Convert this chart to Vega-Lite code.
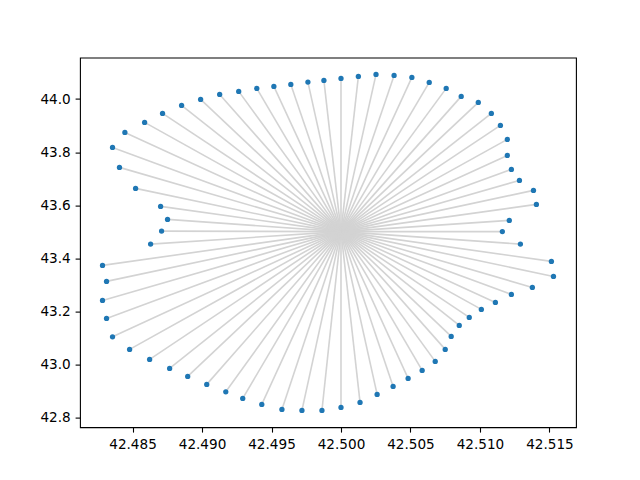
{
  "$schema": "https://vega.github.io/schema/vega-lite/v6.json",
  "width": 496,
  "height": 369.6,
  "autosize": {"type": "none"},
  "padding": {"left": 80, "top": 57.6, "right": 64, "bottom": 52.8},
  "background": "white",
  "config": {
    "view": {"stroke": "black", "strokeWidth": 1.1},
    "axis": {
      "grid": false,
      "domain": false,
      "ticks": true,
      "tickColor": "black",
      "tickWidth": 1.1,
      "tickSize": 4.9,
      "labelPadding": 4.9,
      "labelFont": "DejaVu Sans",
      "labelFontSize": 13.6,
      "labelColor": "black",
      "title": null
    }
  },
  "data": {
    "values": [
      {"x": 42.48709, "y": 43.5019},
      {"x": 42.48752, "y": 43.5460},
      {"x": 42.48702, "y": 43.5951},
      {"x": 42.48522, "y": 43.6630},
      {"x": 42.48406, "y": 43.7423},
      {"x": 42.48356, "y": 43.8177},
      {"x": 42.48445, "y": 43.8743},
      {"x": 42.48587, "y": 43.9121},
      {"x": 42.48716, "y": 43.9460},
      {"x": 42.48853, "y": 43.9762},
      {"x": 42.48990, "y": 43.9989},
      {"x": 42.49127, "y": 44.0177},
      {"x": 42.49264, "y": 44.0291},
      {"x": 42.49394, "y": 44.0404},
      {"x": 42.49517, "y": 44.0479},
      {"x": 42.49639, "y": 44.0555},
      {"x": 42.49762, "y": 44.0642},
      {"x": 42.49877, "y": 44.0706},
      {"x": 42.50000, "y": 44.0781},
      {"x": 42.50125, "y": 44.0857},
      {"x": 42.50252, "y": 44.0932},
      {"x": 42.50382, "y": 44.0894},
      {"x": 42.50510, "y": 44.0819},
      {"x": 42.50635, "y": 44.0630},
      {"x": 42.50757, "y": 44.0404},
      {"x": 42.50865, "y": 44.0102},
      {"x": 42.50988, "y": 43.9875},
      {"x": 42.51082, "y": 43.9460},
      {"x": 42.51147, "y": 43.9008},
      {"x": 42.51197, "y": 43.8479},
      {"x": 42.51197, "y": 43.7875},
      {"x": 42.51226, "y": 43.7347},
      {"x": 42.51284, "y": 43.6932},
      {"x": 42.51385, "y": 43.6555},
      {"x": 42.51406, "y": 43.6026},
      {"x": 42.51211, "y": 43.5423},
      {"x": 42.51161, "y": 43.5000},
      {"x": 42.51291, "y": 43.4528},
      {"x": 42.51514, "y": 43.3875},
      {"x": 42.51529, "y": 43.3309},
      {"x": 42.51377, "y": 43.2894},
      {"x": 42.51226, "y": 43.2630},
      {"x": 42.51111, "y": 43.2328},
      {"x": 42.51010, "y": 43.2064},
      {"x": 42.50923, "y": 43.1762},
      {"x": 42.50851, "y": 43.1460},
      {"x": 42.50793, "y": 43.1045},
      {"x": 42.50750, "y": 43.0555},
      {"x": 42.50678, "y": 43.0102},
      {"x": 42.50584, "y": 42.9762},
      {"x": 42.50483, "y": 42.9460},
      {"x": 42.50375, "y": 42.9158},
      {"x": 42.50260, "y": 42.8857},
      {"x": 42.50137, "y": 42.8555},
      {"x": 42.50000, "y": 42.8366},
      {"x": 42.49863, "y": 42.8253},
      {"x": 42.49719, "y": 42.8253},
      {"x": 42.49575, "y": 42.8291},
      {"x": 42.49430, "y": 42.8479},
      {"x": 42.49293, "y": 42.8706},
      {"x": 42.49171, "y": 42.8955},
      {"x": 42.49034, "y": 42.9234},
      {"x": 42.48897, "y": 42.9536},
      {"x": 42.48767, "y": 42.9838},
      {"x": 42.48623, "y": 43.0177},
      {"x": 42.48479, "y": 43.0555},
      {"x": 42.48356, "y": 43.1030},
      {"x": 42.48313, "y": 43.1725},
      {"x": 42.48284, "y": 43.2404},
      {"x": 42.48313, "y": 43.3121},
      {"x": 42.48284, "y": 43.3725},
      {"x": 42.48630, "y": 43.4528}
    ]
  },
  "encoding": {
    "x": {
      "field": "x",
      "type": "quantitative",
      "scale": {"domain": [42.48122, 42.51691], "zero": false, "nice": false},
      "axis": {"values": [42.485, 42.49, 42.495, 42.5, 42.505, 42.51, 42.515], "format": ".3f"}
    },
    "y": {
      "field": "y",
      "type": "quantitative",
      "scale": {"domain": [42.7619, 44.1566], "zero": false, "nice": false},
      "axis": {"values": [42.8, 43.0, 43.2, 43.4, 43.6, 43.8, 44.0], "format": ".1f"}
    }
  },
  "layer": [
    {
      "mark": {"type": "rule", "color": "#d3d3d3", "strokeWidth": 1.6},
      "encoding": {
        "x2": {"datum": 42.5},
        "y2": {"datum": 43.5}
      }
    },
    {
      "mark": {"type": "point", "filled": true, "shape": "circle", "size": 28, "color": "#1f77b4", "opacity": 1}
    }
  ]
}
